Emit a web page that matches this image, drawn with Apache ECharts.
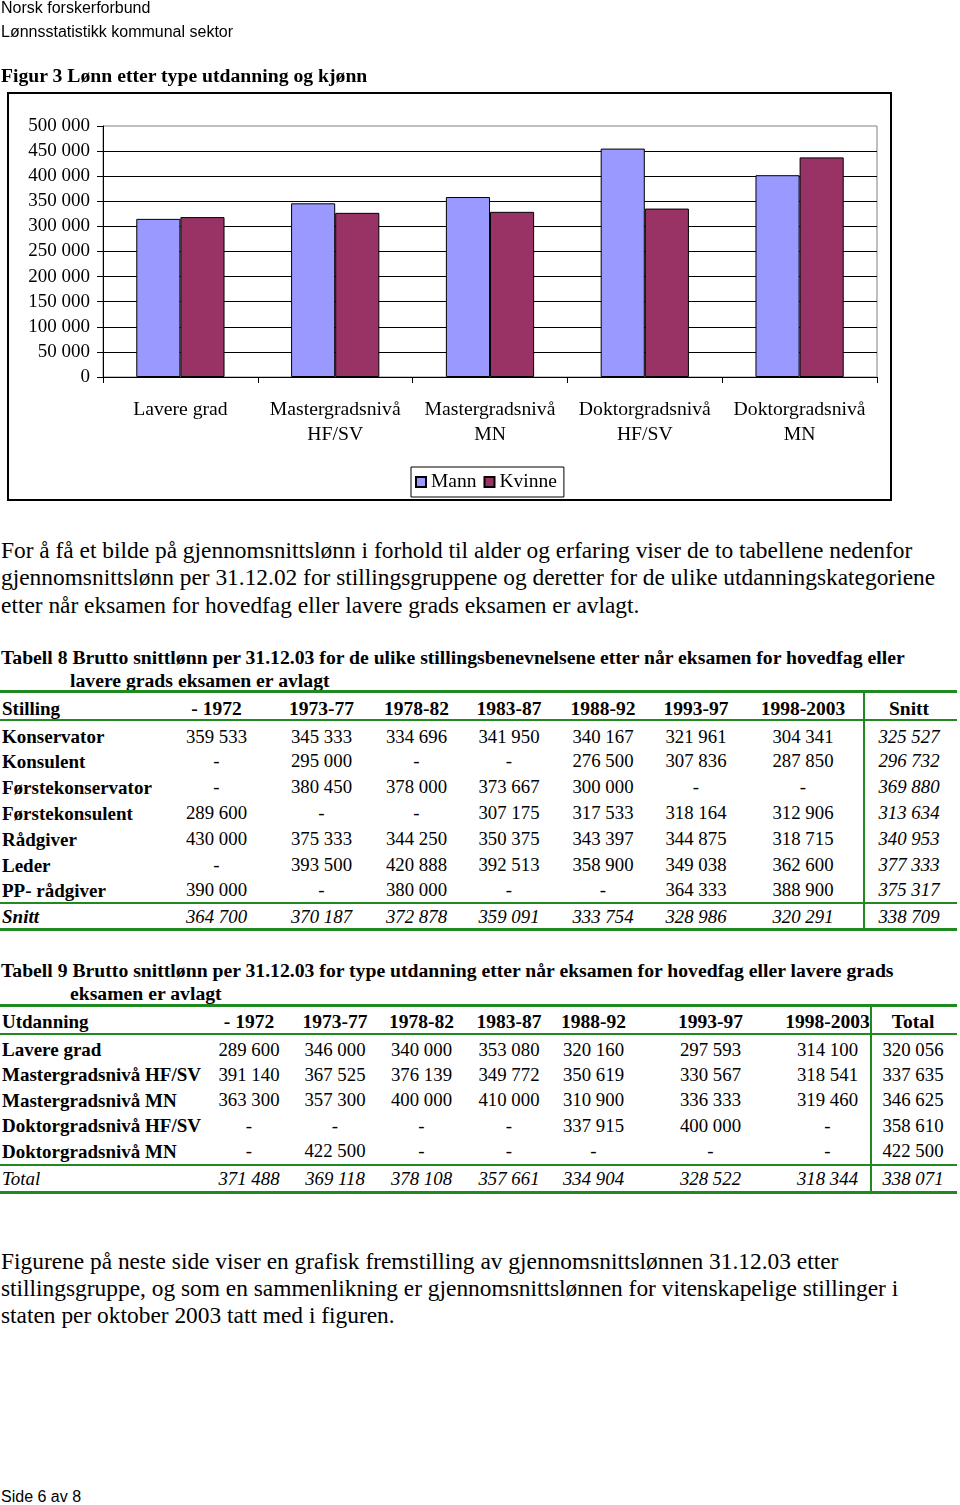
<!DOCTYPE html>
<html><head><meta charset="utf-8">
<script src="https://cdn.jsdelivr.net/npm/echarts@6/dist/echarts.min.js"></script>
<style>
html,body{margin:0;padding:0;background:#fff}
body{width:960px;height:1505px;position:relative;overflow:hidden;font-family:"Liberation Serif","Times New Roman",serif;color:#000}
.t{position:absolute;white-space:nowrap}
.sans{font-family:"Liberation Sans Narrow","Arial Narrow","Liberation Sans",sans-serif}
.hl{position:absolute;background:#1f8a1f}
</style></head><body>
<div id="frame" style="position:absolute;left:7px;top:92px;width:881px;height:405px;border:2px solid #000"></div>
<div id="chart" style="position:absolute;left:0;top:0;width:960px;height:510px"></div>
<script>
// ---------- chart data ----------
const categories = ['Lavere grad', 'Mastergradsnivå\nHF/SV', 'Mastergradsnivå\nMN', 'Doktorgradsnivå\nHF/SV', 'Doktorgradsnivå\nMN'];
const seriesNames = ['Mann', 'Kvinne'];
const mann = [315000, 346000, 358500, 455000, 402000];
const kvinne = [318500, 327000, 329000, 335500, 437500];
const yMin = 0, yMax = 500000, yStep = 50000;

// ---------- texts ----------
const headerLines = ['Norsk forskerforbund', 'Lønnsstatistikk kommunal sektor'];
const figTitle = 'Figur 3 Lønn etter type utdanning og kjønn';
const para1 = ['For å få et bilde på gjennomsnittslønn i forhold til alder og erfaring viser de to tabellene nedenfor',
  'gjennomsnittslønn per 31.12.02 for stillingsgruppene og deretter for de ulike utdanningskategoriene',
  'etter når eksamen for hovedfag eller lavere grads eksamen er avlagt.'];
const t8Title = ['Tabell 8 Brutto snittlønn per 31.12.03 for de ulike stillingsbenevnelsene etter når eksamen for hovedfag eller',
  'lavere grads eksamen er avlagt'];
const t9Title = ['Tabell 9 Brutto snittlønn per 31.12.03 for type utdanning etter når eksamen for hovedfag eller lavere grads',
  'eksamen er avlagt'];
const para2 = ['Figurene på neste side viser en grafisk fremstilling av gjennomsnittslønnen 31.12.03 etter',
  'stillingsgruppe, og som en sammenlikning er gjennomsnittslønnen for vitenskapelige stillinger i',
  'staten per oktober 2003 tatt med i figuren.'];
const footer = 'Side 6 av 8';

// ---------- table 8 data ----------
const t8Head = 'Stilling';
const t8Cols = ['- 1972', '1973-77', '1978-82', '1983-87', '1988-92', '1993-97', '1998-2003', 'Snitt'];
const t8Rows = ['Konservator', 'Konsulent', 'Førstekonservator', 'Førstekonsulent', 'Rådgiver', 'Leder', 'PP- rådgiver'];
const t8Konservator = [359533, 345333, 334696, 341950, 340167, 321961, 304341, 325527];
const t8Konsulent = [null, 295000, null, null, 276500, 307836, 287850, 296732];
const t8Forstekonservator = [null, 380450, 378000, 373667, 300000, null, null, 369880];
const t8Forstekonsulent = [289600, null, null, 307175, 317533, 318164, 312906, 313634];
const t8Radgiver = [430000, 375333, 344250, 350375, 343397, 344875, 318715, 340953];
const t8Leder = [null, 393500, 420888, 392513, 358900, 349038, 362600, 377333];
const t8PP = [390000, null, 380000, null, null, 364333, 388900, 375317];
const t8SumLabel = 'Snitt';
const t8Snitt = [364700, 370187, 372878, 359091, 333754, 328986, 320291, 338709];

// ---------- table 9 data ----------
const t9Head = 'Utdanning';
const t9Cols = ['- 1972', '1973-77', '1978-82', '1983-87', '1988-92', '1993-97', '1998-2003', 'Total'];
const t9Rows = ['Lavere grad', 'Mastergradsnivå HF/SV', 'Mastergradsnivå MN', 'Doktorgradsnivå HF/SV', 'Doktorgradsnivå MN'];
const t9Lavere = [289600, 346000, 340000, 353080, 320160, 297593, 314100, 320056];
const t9MasterHF = [391140, 367525, 376139, 349772, 350619, 330567, 318541, 337635];
const t9MasterMN = [363300, 357300, 400000, 410000, 310900, 336333, 319460, 346625];
const t9DoktorHF = [null, null, null, null, 337915, 400000, null, 358610];
const t9DoktorMN = [null, 422500, null, null, null, null, null, 422500];
const t9SumLabel = 'Total';
const t9Total = [371488, 369118, 378108, 357661, 334904, 328522, 318344, 338071];

// ---------- helpers ----------
function fmt(v) {
  if (v === null || v === undefined) return '-';
  return String(v).replace(/\B(?=(\d{3})+(?!\d))/g, ' ');
}
function put(text, x, yc, o) {
  o = o || {};
  const size = o.size || 18.8;
  const lh = o.lh || Math.round(size * 1.3);
  const d = document.createElement('div');
  d.className = 't' + (o.cls ? ' ' + o.cls : '');
  d.textContent = text;
  d.style.fontSize = size + 'px';
  d.style.lineHeight = lh + 'px';
  d.style.top = (yc - lh / 2) + 'px';
  d.style.left = x + 'px';
  if (o.weight) d.style.fontWeight = o.weight;
  if (o.italic) d.style.fontStyle = 'italic';
  if (o.align === 'center') d.style.transform = 'translateX(-50%)';
  if (o.align === 'right') d.style.transform = 'translateX(-100%)';
  document.body.appendChild(d);
}
function hline(x, y, w, h) {
  const d = document.createElement('div');
  d.className = 'hl';
  d.style.left = x + 'px'; d.style.top = (y - h / 2) + 'px';
  d.style.width = w + 'px'; d.style.height = h + 'px';
  document.body.appendChild(d);
}
function vline(x, y1, y2, w) {
  const d = document.createElement('div');
  d.className = 'hl';
  d.style.left = (x - w / 2) + 'px'; d.style.top = y1 + 'px';
  d.style.width = w + 'px'; d.style.height = (y2 - y1) + 'px';
  document.body.appendChild(d);
}

// ---------- page text ----------
const PARA = 23.4, TITLE = 19.7, LBL = 19, HEAD = 19.5, VAL = 18.8;
put(headerLines[0], 1, 8, {size: 16, cls: 'sans', lh: 20});
put(headerLines[1], 1, 32, {size: 16, cls: 'sans', lh: 20});
put(figTitle, 1, 75, {size: TITLE, weight: 'bold'});
[550.5, 577.5, 605].forEach((y, i) => put(para1[i], 1, y, {size: PARA, lh: 27}));
put(t8Title[0], 1, 656.5, {size: TITLE, weight: 'bold'});
put(t8Title[1], 70, 680, {size: TITLE, weight: 'bold'});
put(t9Title[0], 1, 970, {size: TITLE, weight: 'bold'});
put(t9Title[1], 70, 993, {size: TITLE, weight: 'bold'});
[1261, 1288, 1315].forEach((y, i) => put(para2[i], 1, y, {size: PARA, lh: 27}));
put(footer, 1, 1497, {size: 16, cls: 'sans', lh: 18});

// ---------- table 8 ----------
const t8X = [216.5, 321.5, 416.5, 509, 603, 696, 803, 909];
const t8Y = [736.5, 761, 787, 813, 839, 865, 890];
const t8Data = [t8Konservator, t8Konsulent, t8Forstekonservator, t8Forstekonsulent, t8Radgiver, t8Leder, t8PP];
hline(0, 691.5, 957, 3);
hline(0, 720, 957, 2);
hline(0, 903, 957, 2);
hline(0, 929.5, 957, 3);
vline(863.5, 691, 931, 2);
put(t8Head, 2, 708, {weight: 'bold', size: LBL});
t8Cols.forEach((c, j) => put(c, t8X[j], 708, {weight: 'bold', align: 'center', size: HEAD}));
t8Rows.forEach((r, i) => {
  put(r, 2, t8Y[i], {weight: 'bold', size: LBL});
  t8Data[i].forEach((v, j) => put(fmt(v), t8X[j], t8Y[i], {align: 'center', italic: j === 7, size: VAL}));
});
put(t8SumLabel, 2, 916.5, {weight: 'bold', italic: true, size: LBL});
t8Snitt.forEach((v, j) => put(fmt(v), t8X[j], 916.5, {align: 'center', italic: true, size: VAL}));

// ---------- table 9 ----------
const t9X = [249, 335, 421.5, 509, 593.5, 710.5, 827.5, 913];
const t9Y = [1049.5, 1074.5, 1100, 1125.5, 1151];
const t9Data = [t9Lavere, t9MasterHF, t9MasterMN, t9DoktorHF, t9DoktorMN];
hline(0, 1005, 957, 3);
hline(0, 1033.5, 957, 2);
hline(0, 1165, 957, 2);
hline(0, 1192, 957, 3);
vline(870.5, 1004, 1193, 2);
put(t9Head, 2, 1021.5, {weight: 'bold', size: LBL});
t9Cols.forEach((c, j) => put(c, t9X[j], 1021.5, {weight: 'bold', align: 'center', size: HEAD}));
t9Rows.forEach((r, i) => {
  put(r, 2, t9Y[i], {weight: 'bold', size: LBL});
  t9Data[i].forEach((v, j) => put(fmt(v), t9X[j], t9Y[i], {align: 'center', size: VAL}));
});
put(t9SumLabel, 2, 1178.5, {italic: true, size: LBL});
t9Total.forEach((v, j) => put(fmt(v), t9X[j], 1178.5, {align: 'center', italic: true, size: VAL}));

// ---------- chart ----------
const SERIF = 'Liberation Serif';
const chart = echarts.init(document.getElementById('chart'), null, {renderer: 'canvas'});
chart.setOption({
  animation: false,
  color: ['#9999FF', '#993366'],
  grid: {left: 103, top: 126, width: 774, height: 251, show: true, borderColor: '#808080', borderWidth: 1, backgroundColor: 'transparent'},
  legend: {
    left: 411, top: 467, data: seriesNames,
    itemWidth: 10, itemHeight: 10, itemGap: 7,
    padding: [5, 7, 5, 4],
    borderColor: '#000', borderWidth: 1,
    icon: 'rect',
    textStyle: {fontFamily: SERIF, fontSize: 19.5, color: '#000'}
  },
  xAxis: {
    type: 'category', data: categories,
    axisLine: {lineStyle: {color: '#000', width: 1}},
    axisTick: {show: true, length: 6, lineStyle: {color: '#000'}},
    axisLabel: {fontFamily: SERIF, fontSize: 19.7, color: '#000', lineHeight: 25, margin: 20, interval: 0}
  },
  yAxis: {
    type: 'value', min: yMin, max: yMax, interval: yStep,
    axisLine: {show: true, lineStyle: {color: '#000', width: 1}},
    axisTick: {show: true, length: 6, lineStyle: {color: '#000'}},
    splitLine: {show: true, showMinLine: false, showMaxLine: false, lineStyle: {color: '#000', width: 1}},
    axisLabel: {fontFamily: SERIF, fontSize: 19, color: '#000', margin: 13,
      formatter: v => fmt(v)}
  },
  series: [
    {name: seriesNames[0], type: 'bar', data: mann, barGap: '0%', barCategoryGap: '43%',
     itemStyle: {borderColor: '#000', borderWidth: 1}},
    {name: seriesNames[1], type: 'bar', data: kvinne, barGap: '0%', barCategoryGap: '43%',
     itemStyle: {borderColor: '#000', borderWidth: 1}}
  ]
});
</script>
</body></html>
